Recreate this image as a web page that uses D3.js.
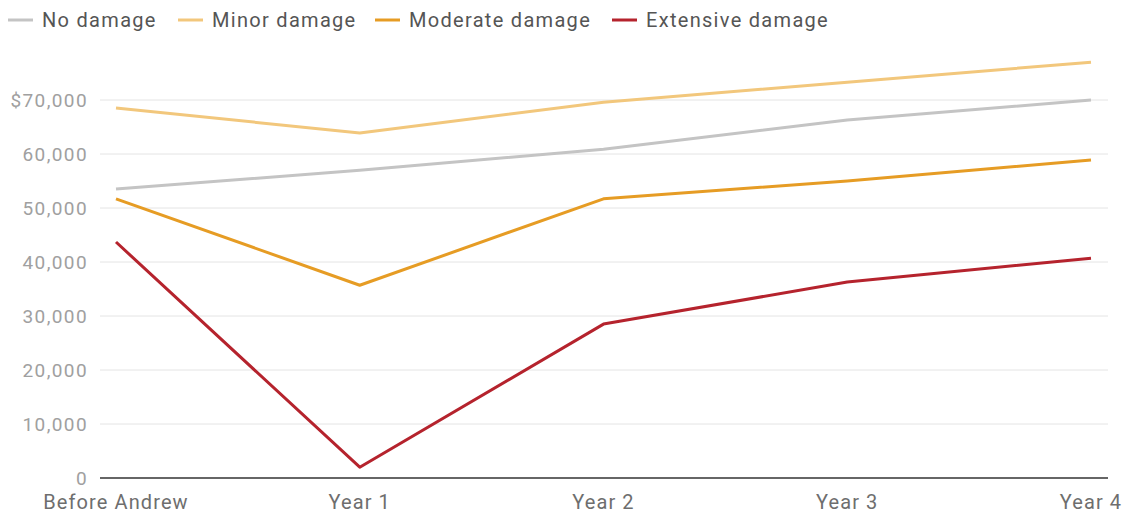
<!DOCTYPE html>
<html>
<head>
<meta charset="utf-8">
<script src="https://cdn.jsdelivr.net/npm/d3@7"></script>
<style>
  body { margin: 0; background: #fff; }
  svg { display: block; font-family: Roboto, "Noto Sans", sans-serif; }
</style>
</head>
<body>
<svg id="chart" width="1123" height="514"></svg>
<script>
// periods and median values per damage level
const periods = ['Before Andrew', 'Year 1', 'Year 2', 'Year 3', 'Year 4'];
const noDamage = [53500, 57000, 60900, 66300, 70000];
const minorDamage = [68500, 63900, 69600, 73300, 77000];
const moderateDamage = [51700, 35700, 51700, 55000, 58900];
const extensiveDamage = [43700, 2000, 28500, 36300, 40700];
const yTicks = [0, 10000, 20000, 30000, 40000, 50000, 60000, 70000];

const series = [
  { name: 'No damage', values: noDamage, color: '#c4c4c4' },
  { name: 'Minor damage', values: minorDamage, color: '#f2c77c' },
  { name: 'Moderate damage', values: moderateDamage, color: '#e69c24' },
  { name: 'Extensive damage', values: extensiveDamage, color: '#b5232d' }
];

const svg = d3.select('#chart');
const plotLeft = 100, plotRight = 1108, plotTop = 100, plotBottom = 478;

const x = d3.scalePoint().domain(periods).range([116, 1091]);
const y = d3.scaleLinear().domain([0, 70000]).range([plotBottom, plotTop]);

// gridlines
svg.append('g').selectAll('line')
  .data(yTicks.filter(d => d > 0))
  .join('line')
  .attr('x1', plotLeft).attr('x2', plotRight)
  .attr('y1', d => y(d)).attr('y2', d => y(d))
  .attr('stroke', '#e4e4e4').attr('stroke-width', 1);

// y labels
svg.append('g').selectAll('text')
  .data(yTicks)
  .join('text')
  .attr('x', 88)
  .attr('y', d => y(d))
  .attr('dy', '0.35em')
  .attr('text-anchor', 'end')
  .attr('font-size', 19)
  .attr('letter-spacing', 1.4)
  .attr('fill', '#a0a0a0')
  .text(d => d === 70000 ? '$' + d3.format(',')(d) : d3.format(',')(d));

// baseline
svg.append('line')
  .attr('x1', plotLeft).attr('x2', plotRight)
  .attr('y1', y(0)).attr('y2', y(0))
  .attr('stroke', '#333').attr('stroke-width', 1.5);

// x labels
svg.append('g').selectAll('text')
  .data(periods)
  .join('text')
  .attr('x', d => x(d))
  .attr('y', 509)
  .attr('text-anchor', 'middle')
  .attr('font-size', 20)
  .attr('letter-spacing', 1.1)
  .attr('fill', '#6e6e6e')
  .text(d => d);

// lines
const line = d3.line().x((d, i) => x(periods[i])).y(d => y(d));
svg.append('g').selectAll('path')
  .data(series)
  .join('path')
  .attr('d', d => line(d.values))
  .attr('fill', 'none')
  .attr('stroke', d => d.color)
  .attr('stroke-width', 3)
  .attr('stroke-linejoin', 'round');

// legend
const legendX = [8, 178, 375, 612];
const lg = svg.append('g').selectAll('g')
  .data(series)
  .join('g')
  .attr('transform', (d, i) => `translate(${legendX[i]},20)`);
lg.append('line')
  .attr('x1', 0).attr('x2', 25)
  .attr('stroke', d => d.color).attr('stroke-width', 3);
lg.append('text')
  .attr('x', 34).attr('dy', '0.35em')
  .attr('font-size', 20)
  .attr('letter-spacing', 1.3)
  .attr('fill', '#555')
  .text(d => d.name);
</script>
</body>
</html>
